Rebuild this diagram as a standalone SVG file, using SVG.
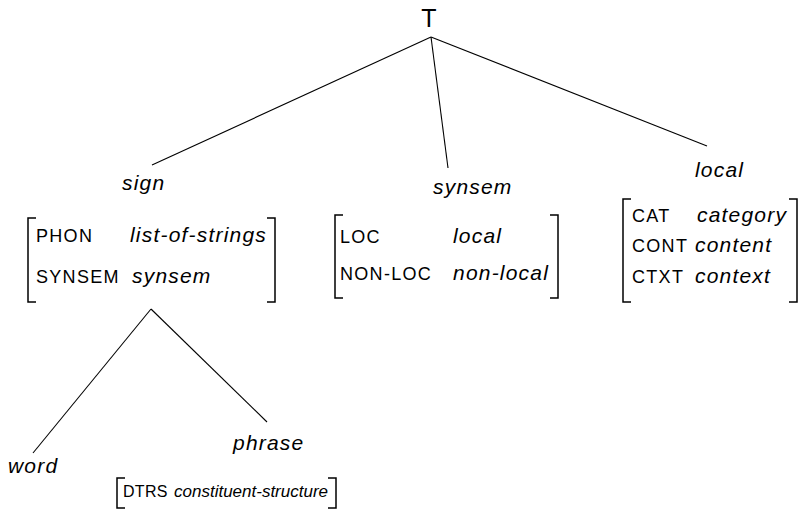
<svg xmlns="http://www.w3.org/2000/svg" width="799" height="510" viewBox="0 0 799 510">
<style>
.edge{stroke:#000;stroke-width:1.1;fill:none}
.br{stroke:#000;stroke-width:1.5;fill:none}
.t{font-family:"Liberation Sans",Arial,sans-serif;fill:#000}
.v{font-family:"Liberation Sans",Arial,sans-serif;font-style:italic;font-size:21px;letter-spacing:1.2px;fill:#000}
.f{font-family:"Liberation Sans",Arial,sans-serif;font-size:18px;letter-spacing:1.3px;fill:#000}
.vs{font-family:"Liberation Sans",Arial,sans-serif;font-style:italic;font-size:17px;fill:#000}
.fs{font-family:"Liberation Sans",Arial,sans-serif;font-size:16px;letter-spacing:0.3px;fill:#000}
</style>
<rect width="799" height="510" fill="#fff"/>
<g id="connectors">
<line class="edge" x1="431" y1="37" x2="152" y2="165"/>
<line class="edge" x1="431" y1="37" x2="448" y2="168"/>
<line class="edge" x1="431" y1="37" x2="707" y2="146"/>
<line class="edge" x1="151" y1="309" x2="33" y2="453"/>
<line class="edge" x1="151" y1="309" x2="267" y2="422"/>
</g>
<g id="node-T">
<text class="t" x="429" y="27" font-size="25" text-anchor="middle">T</text>
</g>
<g id="node-sign">
<text class="v" x="122" y="190">sign</text>
<path class="br" d="M36,218H28V302H36"/>
<path class="br" d="M267,218H275V302H267"/>
<text class="f" x="36" y="242">PHON</text>
<text class="v" x="130" y="242">list-of-strings</text>
<text class="f" x="36" y="283">SYNSEM</text>
<text class="v" x="132" y="283">synsem</text>
</g>
<g id="node-synsem">
<text class="v" x="433" y="194">synsem</text>
<path class="br" d="M343,215H335V298H343"/>
<path class="br" d="M550,215H558V298H550"/>
<text class="f" x="340" y="243">LOC</text>
<text class="v" x="453" y="243">local</text>
<text class="f" x="340" y="280">NON-LOC</text>
<text class="v" x="453" y="280">non-local</text>
</g>
<g id="node-local">
<text class="v" x="695" y="177">local</text>
<path class="br" d="M631,199H623V302H631"/>
<path class="br" d="M789,199H797V302H789"/>
<text class="f" x="632" y="222">CAT</text>
<text class="v" x="697" y="222">category</text>
<text class="f" x="632" y="252">CONT</text>
<text class="v" x="695" y="252">content</text>
<text class="f" x="632" y="283">CTXT</text>
<text class="v" x="695" y="283">context</text>
</g>
<g id="node-word">
<text class="v" x="8" y="473">word</text>
</g>
<g id="node-phrase">
<text class="v" x="233" y="450" font-size="22">phrase</text>
<path class="br" d="M125,478H117V508H125"/>
<path class="br" d="M328,478H336V508H328"/>
<text class="fs" x="123" y="497">DTRS</text>
<text class="vs" x="174" y="497">constituent-structure</text>
</g>
</svg>
